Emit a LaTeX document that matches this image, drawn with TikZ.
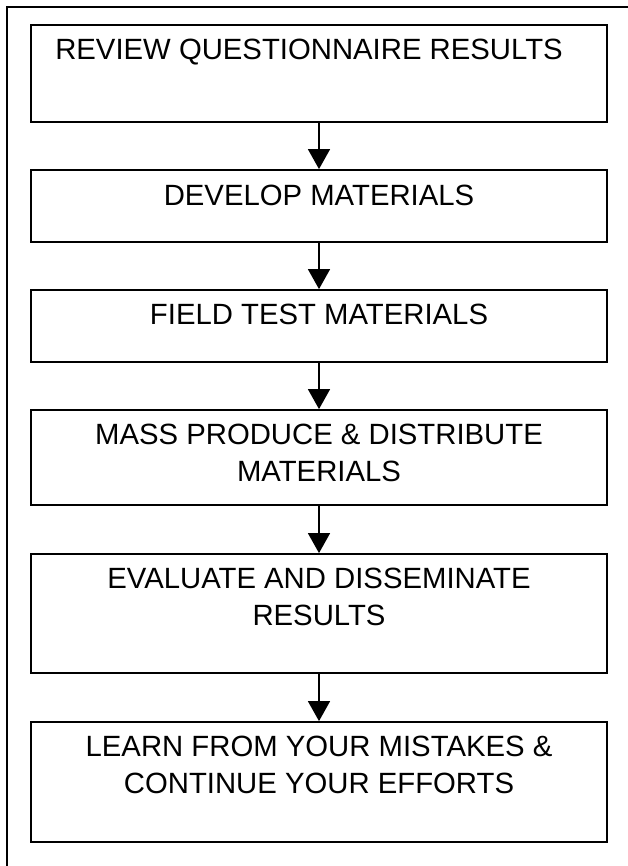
\documentclass[tikz,border=0pt]{standalone}
\usepackage{fontspec}
\setmainfont{Liberation Sans}
\usetikzlibrary{arrows.meta}

\tikzset{
  stagebox/.style={draw=black, line width=1.8pt, rectangle, inner sep=0pt,
    minimum width=576pt},
  stagetext/.style={anchor=north, inner sep=0pt, align=center,
    font=\fontsize{29.3}{37}\selectfont},
  flow/.style={line width=1.5pt, -{Triangle[width=22pt,length=20pt]}},
  frameline/.style={line width=2pt}
}

\begin{document}
\begin{tikzpicture}[x=1pt,y=-1pt]
  \useasboundingbox (0,0) rectangle (628,866);

  % surrounding frame (left and top edges)
  \coordinate (fbl) at (7,900);
  \coordinate (ftl) at (7,7);
  \coordinate (ftr) at (700,7);
  \draw[frameline] (fbl) -- (ftl) -- (ftr);

  % process boxes
  \node[stagebox, minimum height=97pt]  (b1) at (319,73.5) {};
  \node[stagebox, minimum height=72pt]  (b2) at (319,206) {};
  \node[stagebox, minimum height=72pt]  (b3) at (319,326) {};
  \node[stagebox, minimum height=95pt]  (b4) at (319,457.5) {};
  \node[stagebox, minimum height=119pt] (b5) at (319,613.5) {};
  \node[stagebox, minimum height=120pt] (b6) at (319,782) {};

  % box captions, top aligned
  \node[stagetext] (t1) at ([xshift=-10pt,yshift=-14.5pt]b1.north) {REVIEW QUESTIONNAIRE RESULTS};
  \node[stagetext] (t2) at ([yshift=-16pt]b2.north) {DEVELOP MATERIALS};
  \node[stagetext] (t3) at ([yshift=-14.5pt]b3.north) {FIELD TEST MATERIALS};
  \node[stagetext] (t4) at ([yshift=-14.5pt]b4.north) {MASS PRODUCE \& DISTRIBUTE\\MATERIALS};
  \node[stagetext] (t5) at ([yshift=-14.5pt]b5.north) {EVALUATE AND DISSEMINATE\\RESULTS};
  \node[stagetext] (t6) at ([yshift=-14.5pt]b6.north) {LEARN FROM YOUR MISTAKES \&\\CONTINUE YOUR EFFORTS};

  % flow arrows
  \draw[flow] (b1.south) -- (b2.north);
  \draw[flow] (b2.south) -- (b3.north);
  \draw[flow] (b3.south) -- (b4.north);
  \draw[flow] (b4.south) -- (b5.north);
  \draw[flow] (b5.south) -- (b6.north);
\end{tikzpicture}
\end{document}
